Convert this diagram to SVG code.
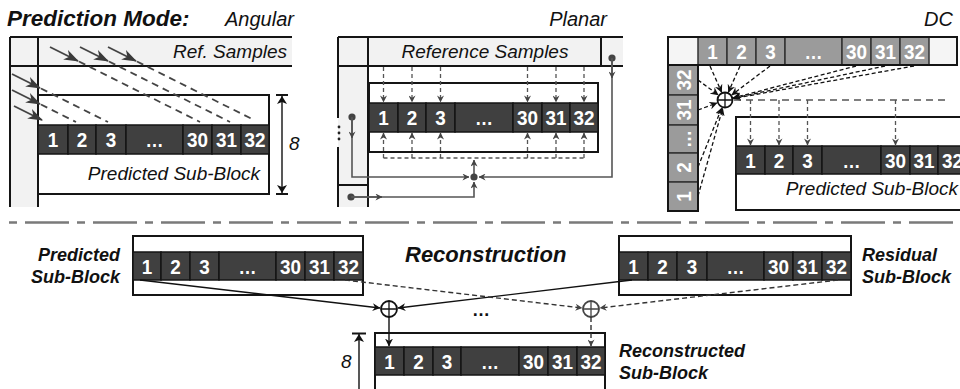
<svg xmlns="http://www.w3.org/2000/svg" width="960" height="389" viewBox="0 0 960 389">
  <defs>
    <style>
      .t { font-family: "Liberation Sans", Arial, sans-serif; fill: #111; }
      .it { font-style: italic; font-size: 19px; }
      .bi { font-style: italic; font-weight: bold; font-size: 18px; }
      .cell { fill: #404040; stroke: #151515; stroke-width: 1.5; }
      .gcell { fill: #9b9b9b; stroke: #333; stroke-width: 1.5; }
      .num { font-family: "Liberation Sans", Arial, sans-serif; font-weight: bold; font-size: 21px; fill: #fff; text-anchor: middle; }
      .blk { fill: #fff; stroke: #151515; stroke-width: 2; }
      .frame { stroke: #151515; stroke-width: 2; fill: none; }
      .ref { fill: #f2f2f2; }
      .ang { stroke: #444; stroke-width: 1.8; fill: none; }
      .angd { stroke: #444; stroke-width: 1.8; fill: none; stroke-dasharray: 7 5; }
      .pl { stroke: #555; stroke-width: 1.3; fill: none; stroke-dasharray: 4 3; }
      .feed { stroke: #555; stroke-width: 1.6; fill: none; }
      .dc { stroke: #111; stroke-width: 1.3; fill: none; stroke-dasharray: 4 2.5; }
      .dcg { stroke: #555; stroke-width: 1.3; fill: none; stroke-dasharray: 7 5; }
      .sol { stroke: #111; stroke-width: 1.4; fill: none; }
      .das { stroke: #333; stroke-width: 1.4; fill: none; stroke-dasharray: 5 3; }
    </style>
    <marker id="big" viewBox="0 0 14 10" refX="13" refY="5" markerWidth="15" markerHeight="11" markerUnits="userSpaceOnUse" orient="auto">
      <path d="M0,0 L14,5 L0,10 L4,5 z" fill="#3a3a3a"/>
    </marker>
    <marker id="sm" viewBox="0 0 8 8" refX="7.5" refY="4" markerWidth="7" markerHeight="7" markerUnits="userSpaceOnUse" orient="auto">
      <path d="M0,0 L8,4 L0,8 L2.5,4 z" fill="#444"/>
    </marker>
    <marker id="smk" viewBox="0 0 8 8" refX="7.5" refY="4" markerWidth="8" markerHeight="8" markerUnits="userSpaceOnUse" orient="auto">
      <path d="M0,0 L8,4 L0,8 L2.5,4 z" fill="#111"/>
    </marker>
    <marker id="dim" viewBox="0 0 8 10" refX="8" refY="5" markerWidth="8" markerHeight="10" markerUnits="userSpaceOnUse" orient="auto-start-reverse">
      <path d="M0,0 L8,5 L0,10 L2,5 z" fill="#111"/>
    </marker>
  </defs>

  <rect width="960" height="389" fill="#fff"/>

  <!-- headings -->
  <text class="t" x="7" y="26" font-size="22.5" font-weight="bold" font-style="italic">Prediction Mode:</text>
  <text class="t" x="225" y="26" font-size="20" font-style="italic">Angular</text>
  <text class="t" x="607" y="26" font-size="20" font-style="italic" text-anchor="end">Planar</text>
  <text class="t" x="953" y="26" font-size="20" font-style="italic" text-anchor="end">DC</text>

  <!-- ===== Angular ===== -->
  <g id="angular">
    <rect class="ref" x="10" y="37" width="28" height="170"/>
    <rect class="ref" x="38" y="37" width="254" height="29"/>
    <path class="frame" d="M10,37 H292 M10,66 H292 M10,37 V207 M38,37 V207"/>
    <text class="t it" x="287" y="58" text-anchor="end">Ref. Samples</text>
    <rect class="blk" x="38" y="95" width="231" height="99"/>
    <rect class="cell" x="38" y="125" width="30" height="29"/>
    <rect class="cell" x="68" y="125" width="28" height="29"/>
    <rect class="cell" x="96" y="125" width="30" height="29"/>
    <rect class="cell" x="126" y="125" width="57" height="29"/>
    <rect class="cell" x="183" y="125" width="29" height="29"/>
    <rect class="cell" x="212" y="125" width="29" height="29"/>
    <rect class="cell" x="241" y="125" width="28" height="29"/>
    <text class="num" x="53" y="147" textLength="10.5" lengthAdjust="spacingAndGlyphs">1</text>
    <text class="num" x="82" y="147" textLength="10.5" lengthAdjust="spacingAndGlyphs">2</text>
    <text class="num" x="111" y="147" textLength="10.5" lengthAdjust="spacingAndGlyphs">3</text>
    <text class="num" x="154.5" y="147" textLength="18" lengthAdjust="spacingAndGlyphs">…</text>
    <text class="num" x="197.5" y="147" textLength="21" lengthAdjust="spacingAndGlyphs">30</text>
    <text class="num" x="226.5" y="147" textLength="21" lengthAdjust="spacingAndGlyphs">31</text>
    <text class="num" x="255" y="147" textLength="21" lengthAdjust="spacingAndGlyphs">32</text>
    <text class="t it" x="260" y="180" text-anchor="end">Predicted Sub-Block</text>
    <!-- block height -->
    <path class="frame" d="M276,95 H288 M276,194 H288"/>
    <line x1="282" y1="96" x2="282" y2="193" stroke="#111" stroke-width="1.4" marker-start="url(#dim)" marker-end="url(#dim)"/>
    <text class="t it" x="289" y="150">8</text>
  </g>

  <!-- ===== Planar ===== -->
  <g id="planar">
    <rect class="ref" x="338" y="37" width="30" height="170"/>
    <rect class="ref" x="368" y="37" width="255" height="29"/>
    <path class="frame" d="M338,37 H623 M338,66 H623 M338,37 V118 M338,147 V207 M368,37 V207 M601,37 V66 M338,185 H368"/>
    <circle cx="339" cy="127" r="1.4" fill="#222"/>
    <circle cx="339" cy="133" r="1.4" fill="#222"/>
    <circle cx="339" cy="139" r="1.4" fill="#222"/>
    <text class="t it" x="485" y="58" text-anchor="middle">Reference Samples</text>
    <rect class="blk" x="369" y="83" width="229" height="69"/>
    <rect class="cell" x="369" y="103" width="29" height="29"/>
    <rect class="cell" x="398" y="103" width="28" height="29"/>
    <rect class="cell" x="426" y="103" width="29" height="29"/>
    <rect class="cell" x="455" y="103" width="58" height="29"/>
    <rect class="cell" x="513" y="103" width="29" height="29"/>
    <rect class="cell" x="542" y="103" width="28" height="29"/>
    <rect class="cell" x="570" y="103" width="28" height="29"/>
    <text class="num" x="383.5" y="125" textLength="10.5" lengthAdjust="spacingAndGlyphs">1</text>
    <text class="num" x="412" y="125" textLength="10.5" lengthAdjust="spacingAndGlyphs">2</text>
    <text class="num" x="440.5" y="125" textLength="10.5" lengthAdjust="spacingAndGlyphs">3</text>
    <text class="num" x="484" y="125" textLength="18" lengthAdjust="spacingAndGlyphs">…</text>
    <text class="num" x="527.5" y="125" textLength="21" lengthAdjust="spacingAndGlyphs">30</text>
    <text class="num" x="556" y="125" textLength="21" lengthAdjust="spacingAndGlyphs">31</text>
    <text class="num" x="584" y="125" textLength="21" lengthAdjust="spacingAndGlyphs">32</text>
  </g>

  <!-- ===== DC ===== -->
  <g id="dc">
    <rect x="668" y="37" width="30" height="28" fill="#f5f5f5"/>
    <rect x="929" y="37" width="28" height="28" fill="#f5f5f5"/>
    <rect class="gcell" x="698" y="37" width="29" height="28"/>
    <rect class="gcell" x="727" y="37" width="29" height="28"/>
    <rect class="gcell" x="756" y="37" width="29" height="28"/>
    <rect class="gcell" x="785" y="37" width="57" height="28"/>
    <rect class="gcell" x="842" y="37" width="29" height="28"/>
    <rect class="gcell" x="871" y="37" width="29" height="28"/>
    <rect class="gcell" x="900" y="37" width="29" height="28"/>
    <rect x="668" y="37" width="289" height="28" class="frame"/>
    <text class="num" x="712.5" y="59" textLength="10.5" lengthAdjust="spacingAndGlyphs">1</text>
    <text class="num" x="741.5" y="59" textLength="10.5" lengthAdjust="spacingAndGlyphs">2</text>
    <text class="num" x="770.5" y="59" textLength="10.5" lengthAdjust="spacingAndGlyphs">3</text>
    <text class="num" x="813.5" y="59" textLength="18" lengthAdjust="spacingAndGlyphs">…</text>
    <text class="num" x="856.5" y="59" textLength="21" lengthAdjust="spacingAndGlyphs">30</text>
    <text class="num" x="885.5" y="59" textLength="21" lengthAdjust="spacingAndGlyphs">31</text>
    <text class="num" x="914.5" y="59" textLength="21" lengthAdjust="spacingAndGlyphs">32</text>
    <rect class="gcell" x="668" y="65" width="30" height="30"/>
    <rect class="gcell" x="668" y="95" width="30" height="30"/>
    <rect class="gcell" x="668" y="125" width="30" height="28"/>
    <rect class="gcell" x="668" y="153" width="30" height="29"/>
    <rect class="gcell" x="668" y="182" width="30" height="29"/>
    <rect x="668" y="65" width="30" height="146" class="frame"/>
    <text class="num" transform="translate(690.5,80) rotate(-90)" textLength="21" lengthAdjust="spacingAndGlyphs">32</text>
    <text class="num" transform="translate(690.5,110) rotate(-90)" textLength="21" lengthAdjust="spacingAndGlyphs">31</text>
    <text class="num" transform="translate(690.5,139) rotate(-90)" textLength="18" lengthAdjust="spacingAndGlyphs">…</text>
    <text class="num" transform="translate(690.5,167.5) rotate(-90)" textLength="10.5" lengthAdjust="spacingAndGlyphs">2</text>
    <text class="num" transform="translate(690.5,196.5) rotate(-90)" textLength="10.5" lengthAdjust="spacingAndGlyphs">1</text>
    <rect class="blk" x="736" y="117" width="230" height="93"/>
    <rect class="cell" x="736" y="146" width="29" height="28"/>
    <rect class="cell" x="765" y="146" width="28" height="28"/>
    <rect class="cell" x="793" y="146" width="29" height="28"/>
    <rect class="cell" x="822" y="146" width="59" height="28"/>
    <rect class="cell" x="881" y="146" width="29" height="28"/>
    <rect class="cell" x="910" y="146" width="28" height="28"/>
    <rect class="cell" x="938" y="146" width="29" height="28"/>
    <text class="num" x="750.5" y="167.5" textLength="10.5" lengthAdjust="spacingAndGlyphs">1</text>
    <text class="num" x="779" y="167.5" textLength="10.5" lengthAdjust="spacingAndGlyphs">2</text>
    <text class="num" x="807.5" y="167.5" textLength="10.5" lengthAdjust="spacingAndGlyphs">3</text>
    <text class="num" x="851.5" y="167.5" textLength="18" lengthAdjust="spacingAndGlyphs">…</text>
    <text class="num" x="895.5" y="167.5" textLength="21" lengthAdjust="spacingAndGlyphs">30</text>
    <text class="num" x="924" y="167.5" textLength="21" lengthAdjust="spacingAndGlyphs">31</text>
    <text class="num" x="952.5" y="167.5" textLength="21" lengthAdjust="spacingAndGlyphs">32</text>
    <text class="t it" x="958" y="195" text-anchor="end">Predicted Sub-Block</text>
    <g id="dc-sum">
      <circle cx="725" cy="100" r="7.5" fill="#fff" stroke="#111" stroke-width="1.8"/>
      <path d="M717.5,100 H732.5 M725,92.5 V107.5" stroke="#111" stroke-width="1.3"/>
    </g>
  </g>

  <!-- separator -->
  <line x1="9" y1="222.5" x2="960" y2="222.5" stroke="#7a7a7a" stroke-width="2.5" stroke-dasharray="8 8 44 8"/>

  <!-- ===== Reconstruction ===== -->
  <g id="predicted">
    <text class="t bi" x="120" y="261" text-anchor="end">Predicted</text>
    <text class="t bi" x="120" y="283" text-anchor="end">Sub-Block</text>
    <rect class="blk" x="133" y="236" width="230" height="59"/>
    <rect class="cell" x="133" y="252" width="28" height="28"/>
    <rect class="cell" x="161" y="252" width="29" height="28"/>
    <rect class="cell" x="190" y="252" width="29" height="28"/>
    <rect class="cell" x="219" y="252" width="57" height="28"/>
    <rect class="cell" x="276" y="252" width="29" height="28"/>
    <rect class="cell" x="305" y="252" width="29" height="28"/>
    <rect class="cell" x="334" y="252" width="29" height="28"/>
    <text class="num" x="147" y="273.5" textLength="10.5" lengthAdjust="spacingAndGlyphs">1</text>
    <text class="num" x="175.5" y="273.5" textLength="10.5" lengthAdjust="spacingAndGlyphs">2</text>
    <text class="num" x="204.5" y="273.5" textLength="10.5" lengthAdjust="spacingAndGlyphs">3</text>
    <text class="num" x="247.5" y="273.5" textLength="18" lengthAdjust="spacingAndGlyphs">…</text>
    <text class="num" x="290.5" y="273.5" textLength="21" lengthAdjust="spacingAndGlyphs">30</text>
    <text class="num" x="319.5" y="273.5" textLength="21" lengthAdjust="spacingAndGlyphs">31</text>
    <text class="num" x="348.5" y="273.5" textLength="21" lengthAdjust="spacingAndGlyphs">32</text>
  </g>

  <text class="t" x="405" y="262" font-size="22" font-weight="bold" font-style="italic">Reconstruction</text>

  <g id="residual">
    <rect class="blk" x="619" y="236" width="232" height="59"/>
    <rect class="cell" x="619" y="252" width="29" height="28"/>
    <rect class="cell" x="648" y="252" width="29" height="28"/>
    <rect class="cell" x="677" y="252" width="30" height="28"/>
    <rect class="cell" x="707" y="252" width="57" height="28"/>
    <rect class="cell" x="764" y="252" width="29" height="28"/>
    <rect class="cell" x="793" y="252" width="29" height="28"/>
    <rect class="cell" x="822" y="252" width="29" height="28"/>
    <text class="num" x="633.5" y="273.5" textLength="10.5" lengthAdjust="spacingAndGlyphs">1</text>
    <text class="num" x="662.5" y="273.5" textLength="10.5" lengthAdjust="spacingAndGlyphs">2</text>
    <text class="num" x="692" y="273.5" textLength="10.5" lengthAdjust="spacingAndGlyphs">3</text>
    <text class="num" x="735.5" y="273.5" textLength="18" lengthAdjust="spacingAndGlyphs">…</text>
    <text class="num" x="778.5" y="273.5" textLength="21" lengthAdjust="spacingAndGlyphs">30</text>
    <text class="num" x="807.5" y="273.5" textLength="21" lengthAdjust="spacingAndGlyphs">31</text>
    <text class="num" x="836.5" y="273.5" textLength="21" lengthAdjust="spacingAndGlyphs">32</text>
    <text class="t bi" x="862" y="261">Residual</text>
    <text class="t bi" x="862" y="283">Sub-Block</text>
  </g>

  <g id="reconstructed">
    <rect class="blk" x="375" y="333" width="230" height="62"/>
    <rect class="cell" x="375" y="347" width="29" height="28"/>
    <rect class="cell" x="404" y="347" width="29" height="28"/>
    <rect class="cell" x="433" y="347" width="28" height="28"/>
    <rect class="cell" x="461" y="347" width="58" height="28"/>
    <rect class="cell" x="519" y="347" width="29" height="28"/>
    <rect class="cell" x="548" y="347" width="29" height="28"/>
    <rect class="cell" x="577" y="347" width="28" height="28"/>
    <text class="num" x="389.5" y="368.5" textLength="10.5" lengthAdjust="spacingAndGlyphs">1</text>
    <text class="num" x="418.5" y="368.5" textLength="10.5" lengthAdjust="spacingAndGlyphs">2</text>
    <text class="num" x="447" y="368.5" textLength="10.5" lengthAdjust="spacingAndGlyphs">3</text>
    <text class="num" x="490" y="368.5" textLength="18" lengthAdjust="spacingAndGlyphs">…</text>
    <text class="num" x="533.5" y="368.5" textLength="21" lengthAdjust="spacingAndGlyphs">30</text>
    <text class="num" x="562.5" y="368.5" textLength="21" lengthAdjust="spacingAndGlyphs">31</text>
    <text class="num" x="591" y="368.5" textLength="21" lengthAdjust="spacingAndGlyphs">32</text>
    <text class="t bi" x="619" y="357">Reconstructed</text>
    <text class="t bi" x="619" y="379">Sub-Block</text>
    <path class="frame" d="M352,333.5 H366"/>
    <line x1="359" y1="334" x2="359" y2="395" stroke="#111" stroke-width="1.4" marker-start="url(#dim)"/>
    <text class="t it" x="341" y="368">8</text>
  </g>

  <g id="sum-1">
    <circle cx="389" cy="309" r="8" fill="#fff" stroke="#111" stroke-width="1.8"/>
    <path d="M381,309 H397 M389,301 V317" stroke="#111" stroke-width="1.3"/>
  </g>
  <g id="sum-32">
    <circle cx="591" cy="309" r="8" fill="#fff" stroke="#444" stroke-width="1.8"/>
    <path d="M583,309 H599 M591,301 V317" stroke="#444" stroke-width="1.3"/>
  </g>
  <text class="t" x="481" y="316" font-size="18" font-weight="bold" text-anchor="middle">…</text>

  <!-- connectors -->
  <g id="connectors">
    <!-- angular projections -->
    <line class="ang" x1="50" y1="47" x2="78" y2="61" marker-end="url(#big)"/>
    <line class="ang" x1="80" y1="47" x2="108" y2="61" marker-end="url(#big)"/>
    <line class="ang" x1="108" y1="47" x2="136" y2="61" marker-end="url(#big)"/>
    <line class="angd" x1="79" y1="61.5" x2="200" y2="122"/>
    <line class="angd" x1="109" y1="61.5" x2="230" y2="122"/>
    <line class="angd" x1="137" y1="61.5" x2="254" y2="120"/>
    <line class="ang" x1="12" y1="74" x2="40" y2="88" marker-end="url(#big)"/>
    <line class="ang" x1="12" y1="90" x2="40" y2="104" marker-end="url(#big)"/>
    <line class="ang" x1="14" y1="106" x2="42" y2="120" marker-end="url(#big)"/>
    <line class="angd" x1="41" y1="88.5" x2="108" y2="122"/>
    <line class="angd" x1="41" y1="104.5" x2="76" y2="122"/>

    <!-- planar: top samples -->
    <line class="pl" x1="383.5" y1="67" x2="383.5" y2="102" marker-end="url(#sm)"/>
    <line class="pl" x1="412" y1="67" x2="412" y2="102" marker-end="url(#sm)"/>
    <line class="pl" x1="440.5" y1="67" x2="440.5" y2="102" marker-end="url(#sm)"/>
    <line class="pl" x1="527.5" y1="67" x2="527.5" y2="102" marker-end="url(#sm)"/>
    <line class="pl" x1="556" y1="67" x2="556" y2="102" marker-end="url(#sm)"/>
    <line class="pl" x1="584" y1="67" x2="584" y2="102" marker-end="url(#sm)"/>
    <!-- planar: interpolated part -->
    <path class="pl" d="M383.5,158 H584" stroke="#222" stroke-dasharray="7 4" stroke-width="1.6"/>
    <line class="pl" x1="383.5" y1="158" x2="383.5" y2="133" marker-end="url(#sm)"/>
    <line class="pl" x1="412" y1="158" x2="412" y2="133" marker-end="url(#sm)"/>
    <line class="pl" x1="440.5" y1="158" x2="440.5" y2="133" marker-end="url(#sm)"/>
    <line class="pl" x1="527.5" y1="158" x2="527.5" y2="133" marker-end="url(#sm)"/>
    <line class="pl" x1="556" y1="158" x2="556" y2="133" marker-end="url(#sm)"/>
    <line class="pl" x1="584" y1="158" x2="584" y2="133" marker-end="url(#sm)"/>
    <line class="feed" x1="474" y1="174" x2="474" y2="160" marker-end="url(#sm)"/>
    <circle cx="474" cy="177" r="3.6" fill="#444"/>
    <circle cx="352" cy="117" r="3.6" fill="#444"/>
    <path class="feed" d="M352,117 V177 H469" marker-end="url(#sm)"/>
    <line class="feed" x1="352" y1="118" x2="352" y2="138" marker-end="url(#sm)"/>
    <circle cx="612" cy="58" r="3.6" fill="#444"/>
    <path class="feed" d="M612,58 V177 H479" marker-end="url(#sm)"/>
    <line class="feed" x1="612" y1="59" x2="612" y2="78" marker-end="url(#sm)"/>
    <circle cx="351" cy="197" r="3.6" fill="#444"/>
    <path class="feed" d="M351,197 H474 V182" marker-end="url(#sm)"/>
    <line class="feed" x1="352" y1="197" x2="382" y2="197" marker-end="url(#sm)"/>

    <!-- DC: averaging -->
    <line class="dc" x1="710" y1="66" x2="721.6" y2="92.2" marker-end="url(#smk)"/>
    <line class="dc" x1="740" y1="66" x2="728.4" y2="92.2" marker-end="url(#smk)"/>
    <line class="dc" x1="770" y1="66" x2="731.8" y2="94.9" marker-end="url(#smk)"/>
    <line class="dc" x1="856" y1="66" x2="733.2" y2="97.9" marker-end="url(#smk)"/>
    <line class="dc" x1="885" y1="66" x2="733.3" y2="98.2" marker-end="url(#smk)"/>
    <line class="dc" x1="914" y1="66" x2="733.4" y2="98.5" marker-end="url(#smk)"/>
    <line class="dc" x1="698" y1="80" x2="718.2" y2="94.9" marker-end="url(#smk)"/>
    <line class="dc" x1="698" y1="110" x2="717" y2="103" marker-end="url(#smk)"/>
    <line class="dc" x1="698" y1="167" x2="721.8" y2="107.9" marker-end="url(#smk)"/>
    <line class="dc" x1="698" y1="196" x2="722.7" y2="108.2" marker-end="url(#smk)"/>
    <!-- DC: fill -->
    <line class="dcg" x1="734" y1="100" x2="945" y2="100"/>
    <line class="pl" x1="750.5" y1="100" x2="750.5" y2="145" marker-end="url(#sm)"/>
    <line class="pl" x1="779" y1="100" x2="779" y2="145" marker-end="url(#sm)"/>
    <line class="pl" x1="807.5" y1="100" x2="807.5" y2="145" marker-end="url(#sm)"/>
    <line class="pl" x1="895.5" y1="100" x2="895.5" y2="145" marker-end="url(#sm)"/>

    <!-- reconstruction sums -->
    <line class="sol" x1="140" y1="280" x2="380" y2="308" marker-end="url(#smk)"/>
    <line class="sol" x1="632" y1="280" x2="398" y2="308" marker-end="url(#smk)"/>
    <line class="das" x1="345" y1="280" x2="582" y2="308" marker-end="url(#sm)"/>
    <line class="das" x1="838" y1="280" x2="600" y2="308" marker-end="url(#sm)"/>
    <line class="sol" x1="389" y1="317" x2="389" y2="346" marker-end="url(#smk)"/>
    <line class="das" x1="591" y1="317" x2="591" y2="346" marker-end="url(#sm)"/>
  </g>
</svg>
